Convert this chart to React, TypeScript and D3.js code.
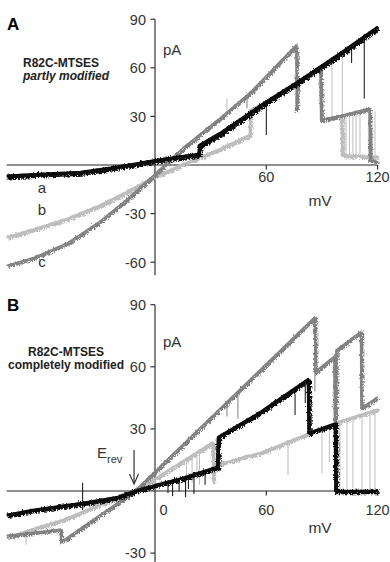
import React from "react";
import * as d3 from "d3";

const WIDTH = 390;
const HEIGHT = 562;
const FONT = "'Liberation Sans', Arial, Helvetica, sans-serif";

// Voltage axis shared by both panels
const voltageDomain: [number, number] = [-80, 120];
const voltageTicks = [60, 120];

// Current axes
const currentTicksA = [90, 60, 30, -30, -60];
const currentTicksB = [90, 60, 30, -30];

// Panel A ramps, [mV, pA] breakpoints
const rampA_a: [number, number][] = [
  [-80, -6.8], [-60, -5.6], [-40, -4.5], [-24, -1.9], [-10, 0.8], [0, 2.8],
  [12, 4.8], [23.5, 6.6], [24.2, 12.3], [35, 19.5], [60, 39], [78, 52],
  [89, 60.5], [100, 69], [120, 85],
];
const rampA_b: [number, number][] = [
  [-80, -44.5], [-65, -39.5], [-47, -33], [-30, -25], [-15, -16.5], [0, -7],
  [15, 0.5], [35, 10], [51, 18.5], [51.3, 34], [60, 39], [78, 52], [89, 60.5],
  [89.4, 28], [100.5, 30], [100.8, 6], [120, 5],
];
const rampA_c: [number, number][] = [
  [-80, -62], [-65, -57], [-47, -48], [-30, -35], [-15, -21], [0, -5.5],
  [5, 0], [15, 10.5], [35, 29], [51, 44.5], [60, 55], [76, 74], [76.2, 34],
  [76.6, 51.5], [89, 60.5], [89.5, 28], [100, 30.5], [115.5, 35], [115.8, 3],
  [120, 2],
];

// Panel A brief transitions, [mV, from pA, to pA]
const spikesA_a: [number, number, number][] = [
  [60, 39, 18.5], [106, 74, 63], [112.8, 81, 41],
];
const spikesA_b: [number, number, number][] = [
  [38.8, 30, 41], [89, 60, 35], [95.4, 64, 28], [101, 68, 6], [103, 30, 6],
  [104.8, 30.5, 6], [106.7, 31, 6], [108.4, 31.5, 6], [110.5, 32, 6],
  [115.3, 33, 5], [117, 33, 5], [118.6, 33, 5],
];
const spikesA_c: [number, number, number][] = [[49.6, 43.5, 35]];

// Panel B ramps
const rampB_a: [number, number][] = [
  [-80, -11.6], [-66, -9.2], [-39, -5.8], [-20, -2.9], [-11, 0], [0, 2.8],
  [15, 6.3], [33.5, 11.6], [34, 26], [56.6, 38], [82.5, 54], [82.8, 28],
  [97, 32.5], [97.3, 0], [120, 0],
];
const rampB_b: [number, number][] = [
  [-80, -22.5], [-65, -18], [-50, -14], [-30, -6.5], [-11, 0], [0, 6],
  [31, 23.5], [31.3, 5], [31.8, 12.5], [56.6, 18.4], [98, 33.3], [120, 39.5],
];
const rampB_c: [number, number][] = [
  [-80, -21.5], [-51, -18.5], [-50.8, -24.6], [-11, 0], [86, 84], [86.2, 57.5],
  [96.5, 65], [96.8, 34], [97.2, 33], [97.6, 68], [110.8, 77], [111.1, 40],
  [120, 45.5],
];

const spikesB_a: [number, number, number][] = [
  [-39, 4, -9.2], [7, 4.2, -1], [9.5, 4.6, -2.5], [13, 5.5, 0], [16.5, 6.5, -3],
  [18, 6.9, 1], [21, 7.8, -1.5], [27, 9.4, 3], [75.5, 47, 36.7], [81, 52, 42.5],
];
const spikesB_b: [number, number, number][] = [
  [-69.5, -19.5, -26], [17, 16, 5], [20, 17.5, 4], [22.6, 19, 6], [24, 20, 3],
  [71.7, 23.5, 7.7], [90, 29.5, 8.5], [94, 31, 14], [98, 33.3, 1],
  [99.7, 34, 1], [103.5, 35, 1], [106.7, 36, 1.5], [111.6, 37.5, 1],
  [115.9, 38.8, 1], [118.6, 39.3, 1],
];
const spikesB_c: [number, number, number][] = [
  [38.8, 43, 36], [44.7, 48, 35], [86.2, 57.5, 48],
];

const LIGHT = "#bdbdbd";
const DARK = "#818181";
const BLACK = "#0a0a0a";

const x = d3.scaleLinear().domain(voltageDomain).range([6.6, 377.6]);
const yA = d3.scaleLinear().domain([-60, 90]).range([262.2, 19.2]);
const yB = d3.scaleLinear().domain([-30, 90]).range([553.1, 304.7]);

type Scale = d3.ScaleLinear<number, number>;

// A ramp: a solid core plus a jittered outline for the recording noise
function Trace({ data, y, color, width }: { data: [number, number][]; y: Scale; color: string; width: number }) {
  const line = d3.line<[number, number]>().x((d) => x(d[0])).y((d) => y(d[1]));
  const d = line(data) ?? "";
  return (
    <g fill="none" stroke={color} strokeLinejoin="round">
      <path d={d} strokeWidth={width - 1.2} />
      <path d={d} strokeWidth={width + 0.6} filter="url(#recordingNoise)" />
    </g>
  );
}

function Spikes({ data, y, color }: { data: [number, number, number][]; y: Scale; color: string }) {
  return (
    <g stroke={color} strokeWidth={1}>
      {data.map((s, i) => (
        <line key={i} x1={x(s[0])} x2={x(s[0])} y1={y(s[1])} y2={y(s[2])} />
      ))}
    </g>
  );
}

function Axes({ y, ticks, top, bottom, xLabelDy, showZero }: {
  y: Scale; ticks: number[]; top: number; bottom: number; xLabelDy: number; showZero: boolean;
}) {
  const x0 = x(0);
  const yZero = y(0);
  return (
    <g fontFamily={FONT} fill="#333">
      <line x1={x(-80)} x2={x(120)} y1={yZero} y2={yZero} stroke="#222" strokeWidth={1.2} />
      <line x1={x0} x2={x0} y1={y(top)} y2={y(bottom)} stroke="#333" strokeWidth={1.2} />
      {ticks.map((t) => (
        <g key={t}>
          <line x1={x0 - 4.5} x2={x0} y1={y(t)} y2={y(t)} stroke="#333" strokeWidth={1.2} />
          <text x={x0 - 9} y={y(t) + 5.3} textAnchor="end" fontSize={14.5}>{t}</text>
        </g>
      ))}
      {voltageTicks.map((v) => (
        <g key={v}>
          <line x1={x(v)} x2={x(v)} y1={yZero} y2={yZero + 4.5} stroke="#333" strokeWidth={1.2} />
          <text x={x(v)} y={yZero + xLabelDy} textAnchor="middle" fontSize={14.5}>{v}</text>
        </g>
      ))}
      {showZero && (
        <text x={x0 + 4.5} y={yZero + xLabelDy} fontSize={14.5}>0</text>
      )}
    </g>
  );
}

export default function App() {
  return (
    <svg width={WIDTH} height={HEIGHT} viewBox={`0 0 ${WIDTH} ${HEIGHT}`}
      style={{ position: "absolute", left: 0, top: 0, background: "#fff" }}>
      <defs>
        <filter id="recordingNoise" filterUnits="userSpaceOnUse" x={0} y={0} width={WIDTH} height={HEIGHT}>
          <feTurbulence type="turbulence" baseFrequency="1.4 0.35" numOctaves={2} seed={7} result="grain" />
          <feDisplacementMap in="SourceGraphic" in2="grain" scale={4.5}
            xChannelSelector="R" yChannelSelector="G" />
        </filter>
      </defs>
      <rect width={WIDTH} height={HEIGHT} fill="#fff" />

      {/* Panel A */}
      <Axes y={yA} ticks={currentTicksA} top={90} bottom={-68} xLabelDy={17} showZero={false} />
      <Trace data={rampA_b} y={yA} color={LIGHT} width={3.2} />
      <Spikes data={spikesA_b} y={yA} color={LIGHT} />
      <Trace data={rampA_c} y={yA} color={DARK} width={2.8} />
      <Spikes data={spikesA_c} y={yA} color={DARK} />
      <Trace data={rampA_a} y={yA} color={BLACK} width={4.2} />
      <Spikes data={spikesA_a} y={yA} color={BLACK} />

      <g fontFamily={FONT} fill="#222">
        <text x={7} y={30} fontSize={17} fontWeight="bold" fill="#000">A</text>
        <text x={23} y={67} fontSize={12} fontWeight="bold">R82C-MTSES</text>
        <text x={23} y={80} fontSize={12} fontWeight="bold" fontStyle="italic">partly modified</text>
        <text x={163} y={55} fontSize={15} fill="#333">pA</text>
        <text x={320} y={206} fontSize={15.5} textAnchor="middle" fill="#333">mV</text>
        <text x={42} y={193} fontSize={15} textAnchor="middle" fill="#333">a</text>
        <text x={42} y={215} fontSize={15} textAnchor="middle" fill="#333">b</text>
        <text x={42} y={267} fontSize={15} textAnchor="middle" fill="#333">c</text>
      </g>

      {/* Panel B */}
      <Axes y={yB} ticks={currentTicksB} top={90} bottom={-34.5} xLabelDy={24} showZero={true} />
      <Trace data={rampB_b} y={yB} color={LIGHT} width={3} />
      <Spikes data={spikesB_b} y={yB} color={LIGHT} />
      <Trace data={rampB_c} y={yB} color={DARK} width={2.8} />
      <Spikes data={spikesB_c} y={yB} color={DARK} />
      <Trace data={rampB_a} y={yB} color={BLACK} width={3.8} />
      <Spikes data={spikesB_a} y={yB} color={BLACK} />

      <g fontFamily={FONT} fill="#222">
        <text x={7} y={311} fontSize={17} fontWeight="bold" fill="#000">B</text>
        <text x={66} y={356} fontSize={12} fontWeight="bold" textAnchor="middle">R82C-MTSES</text>
        <text x={66} y={369} fontSize={12} fontWeight="bold" textAnchor="middle">completely modified</text>
        <text x={163} y={347} fontSize={15} fill="#333">pA</text>
        <text x={320} y={533} fontSize={15.5} textAnchor="middle" fill="#333">mV</text>
        <text x={97} y={458} fontSize={15} fill="#333">E</text>
        <text x={107} y={463} fontSize={11} fill="#333">rev</text>
      </g>
      {/* reversal potential marker */}
      <g stroke="#333" strokeWidth={1.2} fill="none">
        <line x1={x(-11.3)} x2={x(-11.3)} y1={450} y2={483} />
        <polyline points={`${x(-11.3) - 4.5},${474} ${x(-11.3)},${484} ${x(-11.3) + 4.5},${474}`} />
      </g>
    </svg>
  );
}
